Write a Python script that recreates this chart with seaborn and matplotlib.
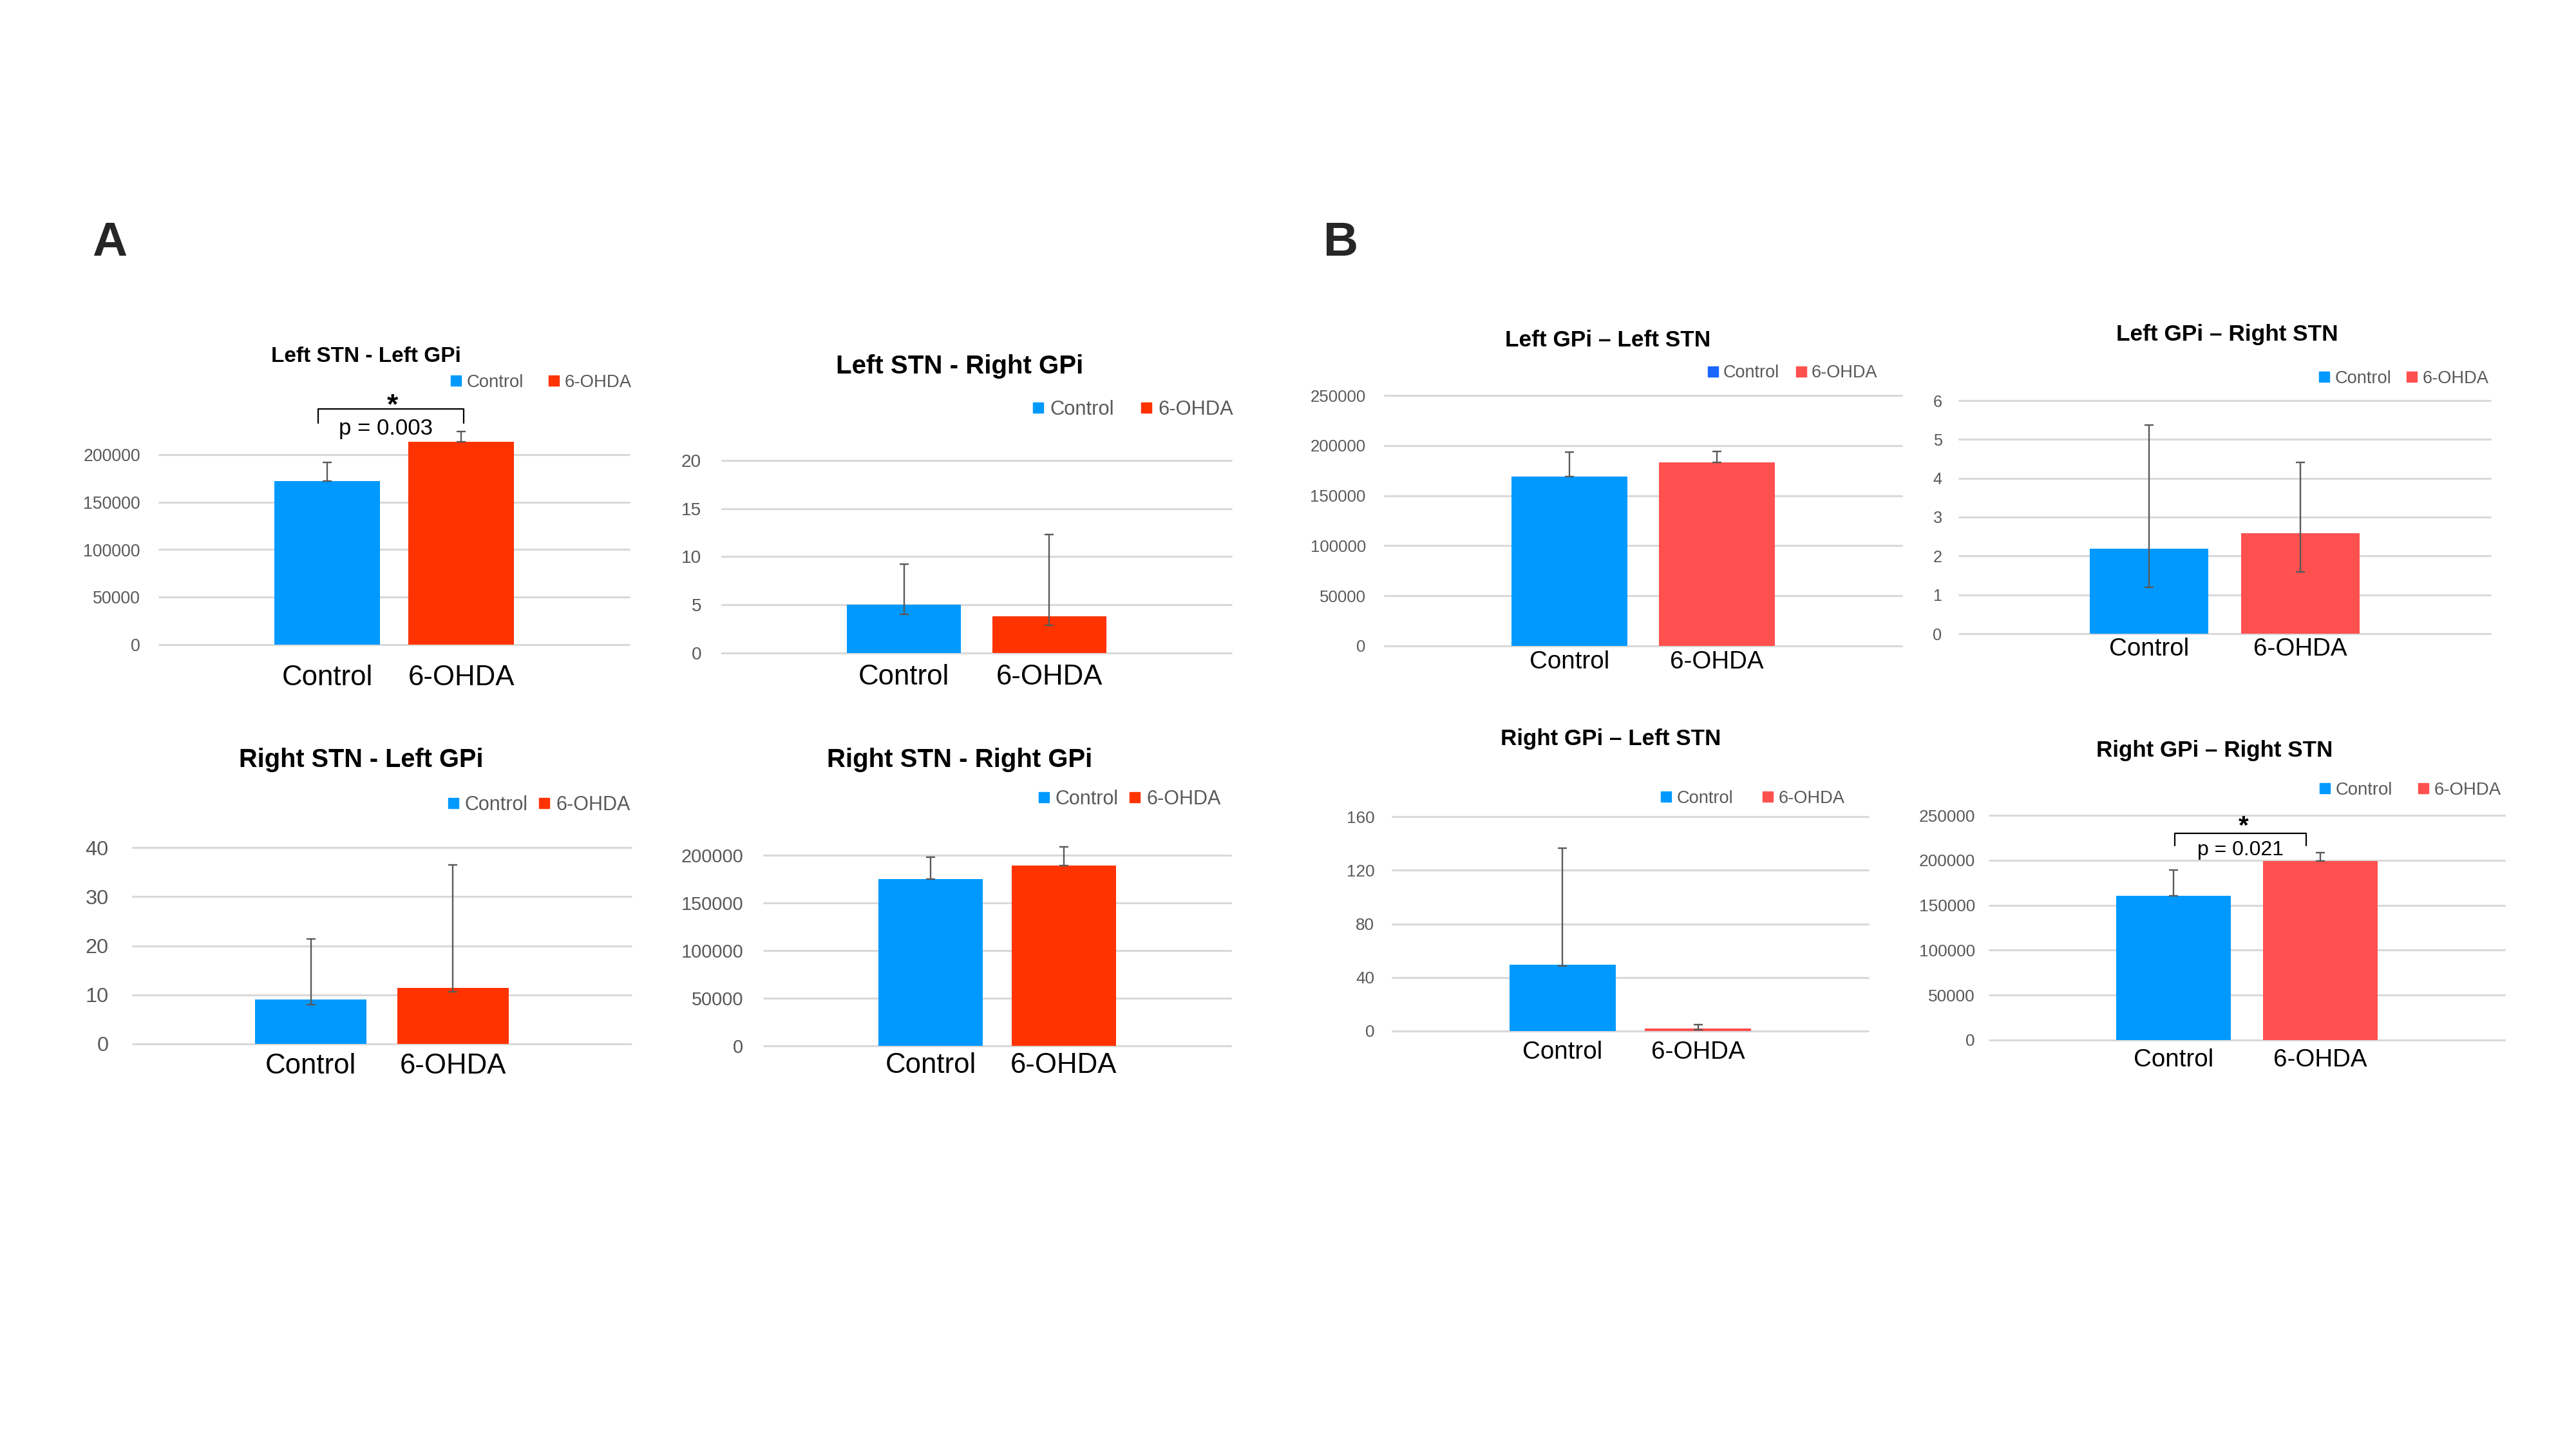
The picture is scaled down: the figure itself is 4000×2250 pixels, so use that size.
import matplotlib
matplotlib.use('Agg')
import matplotlib.pyplot as plt
from matplotlib.lines import Line2D
import seaborn as sns
import pandas as pd

# categories and panel titles
groups = ['Control', '6-OHDA']
titles = ['Left STN - Left GPi', 'Left STN - Right GPi',
          'Right STN - Left GPi', 'Right STN - Right GPi',
          'Left GPi \u2013 Left STN', 'Left GPi \u2013 Right STN',
          'Right GPi \u2013 Left STN', 'Right GPi \u2013 Right STN']

# bar heights and error bars (minus / plus)
a1_means = [172200, 213500]
a1_err_lo = [0, 0]
a1_err_hi = [19700, 10900]
a2_means = [5.0, 3.82]
a2_err_lo = [0.99, 0.97]
a2_err_hi = [4.22, 8.48]
a3_means = [9.03, 11.36]
a3_err_lo = [1.03, 0.76]
a3_err_hi = [12.37, 25.14]
a4_means = [174750, 189000]
a4_err_lo = [0, 0]
a4_err_hi = [23250, 19500]
b1_means = [169100, 183100]
b1_err_lo = [0, 0]
b1_err_hi = [24400, 10900]
b2_means = [2.18, 2.58]
b2_err_lo = [0.99, 0.99]
b2_err_hi = [3.19, 1.83]
b3_means = [49.5, 1.8]
b3_err_lo = [1.1, 0.7]
b3_err_hi = [87, 2.8]
b4_means = [160400, 199000]
b4_err_lo = [0, 0]
b4_err_hi = [28800, 9800]

# y tick values
ticks_200k = [0, 50000, 100000, 150000, 200000]
ticks_250k = [0, 50000, 100000, 150000, 200000, 250000]
a2_ticks = [0, 5, 10, 15, 20]
a3_ticks = [0, 10, 20, 30, 40]
b2_ticks = [0, 1, 2, 3, 4, 5, 6]
b3_ticks = [0, 40, 80, 120, 160]

colors_a = ['#0099FF', '#FF3300']
colors_b = ['#0099FF', '#FF5050']

panels = [
    dict(means=a1_means, lo=a1_err_lo, hi=a1_err_hi, ticks=ticks_200k, colors=colors_a),
    dict(means=a2_means, lo=a2_err_lo, hi=a2_err_hi, ticks=a2_ticks, colors=colors_a),
    dict(means=a3_means, lo=a3_err_lo, hi=a3_err_hi, ticks=a3_ticks, colors=colors_a),
    dict(means=a4_means, lo=a4_err_lo, hi=a4_err_hi, ticks=ticks_200k, colors=colors_a),
    dict(means=b1_means, lo=b1_err_lo, hi=b1_err_hi, ticks=ticks_250k, colors=colors_b),
    dict(means=b2_means, lo=b2_err_lo, hi=b2_err_hi, ticks=b2_ticks, colors=colors_b),
    dict(means=b3_means, lo=b3_err_lo, hi=b3_err_hi, ticks=b3_ticks, colors=colors_b),
    dict(means=b4_means, lo=b4_err_lo, hi=b4_err_hi, ticks=ticks_250k, colors=colors_b),
]
legend_colors = [colors_a] * 4 + [['#1A66FF', '#FF5050'], colors_b, colors_b, colors_b]

# layout in pixels: plot box (left, right, y of 0, y of top tick), title centre + size,
# x tick size/pad, y tick size/pad, legend left/centre + size + column spacing
layout = [
    dict(box=(247, 977, 1001, 706), title=(568, 550, 24.0), xt=(31.5, 22), yt=(19.2, 21), leg=(701, 594, 19.8, 1.47)),
    dict(box=(1121, 1912, 1014, 715), title=(1490, 566, 29.0), xt=(31.5, 12), yt=(20.2, 23), leg=(1604, 636, 22.2, 1.37)),
    dict(box=(206, 980, 1621, 1316), title=(561, 1177, 28.6), xt=(31.5, 10), yt=(23.4, 27), leg=(696, 1250, 22.0, 0.58)),
    dict(box=(1186, 1911, 1624, 1328), title=(1490, 1177, 28.9), xt=(31.5, 7), yt=(20.8, 23), leg=(1613, 1241, 22.0, 0.58)),
    dict(box=(2150, 2953, 1003, 614), title=(2497, 525, 25.4), xt=(27.7, 5), yt=(18.6, 21), leg=(2653, 579, 19.5, 0.99)),
    dict(box=(3042, 3867, 984, 622), title=(3458, 516, 25.4), xt=(27.7, 4), yt=(18.2, 19), leg=(3602, 588, 19.6, 0.94)),
    dict(box=(2162, 2901, 1601, 1268), title=(2501, 1144, 25.2), xt=(27.7, 11), yt=(18.8, 20), leg=(2580, 1240, 19.6, 1.74)),
    dict(box=(3089, 3889, 1615, 1266), title=(3439, 1162, 25.2), xt=(27.7, 9), yt=(18.9, 16), leg=(3603, 1227, 19.8, 1.5)),
]

# significance brackets: panel, x from/to, bracket top/leg bottom, p text baseline, star baseline
sig = [
    dict(panel=0, x=(-0.069, 1.021), y=(248300, 233500), text='p = 0.003', tx=0.438, ty=220800, tfs=25, sx=0.49, sy=243000, sfs=32),
    dict(panel=7, x=(0.007, 0.902), y=(230200, 216100), text='p = 0.021', tx=0.455, ty=205500, tfs=23, sx=0.477, sy=229500, sfs=29),
]

sns.set_style('white')
plt.rcParams['font.family'] = ['Liberation Sans', 'DejaVu Sans']

W, H = 4000, 2250
PT = 100 / 72
fig = plt.figure(figsize=(40, 22.5), dpi=100)

axes = []
for i, p in enumerate(panels):
    lay = layout[i]
    L, R, y0, yt = lay['box']
    ax = fig.add_axes([L / W, 1 - y0 / H, (R - L) / W, (y0 - yt) / H])
    axes.append(ax)
    df = pd.DataFrame({'group': groups, 'value': p['means']})
    sns.barplot(data=df, x='group', y='value', hue='group', palette=p['colors'], saturation=1,
                width=0.785, linewidth=0, errorbar=None, legend=False, ax=ax, zorder=2)
    for patch in ax.patches:
        patch.set_clip_on(False)

    eb = ax.errorbar([0, 1], p['means'], yerr=[p['lo'], p['hi']], fmt='none',
                     ecolor='#595959', elinewidth=1.7, capsize=4.7, capthick=1.7, zorder=3)
    for art in eb.get_children():
        art.set_clip_on(False)

    for t in p['ticks']:
        ax.axhline(t, color='#D9D9D9', lw=2.2, zorder=1, clip_on=False)

    ax.set_xlim(-1.255, 2.255)
    ax.set_ylim(0, p['ticks'][-1])
    ax.set_yticks(p['ticks'])
    ax.set_yticklabels([str(t) for t in p['ticks']])
    ax.set_xlabel('')
    ax.set_ylabel('')
    for s in ax.spines.values():
        s.set_visible(False)
    ax.tick_params(axis='y', length=0, pad=lay['yt'][1], labelsize=lay['yt'][0], labelcolor='#595959')
    ax.tick_params(axis='x', length=0, pad=lay['xt'][1], labelsize=lay['xt'][0], labelcolor='black')

    tx, ty, tfs = lay['title']
    fig.text(tx / W, 1 - (ty + 0.36 * tfs * PT) / H, titles[i], ha='center', va='baseline',
             fontsize=tfs, fontweight='bold', color='black')

    lx, ly, lfs, cs = lay['leg']
    handles = [Line2D([], [], marker='s', ls='none', color=c, markersize=11.5) for c in legend_colors[i]]
    ax.legend(handles, groups, loc='center left', bbox_to_anchor=(lx / W, 1 - ly / H),
              bbox_transform=fig.transFigure, ncol=2, frameon=False, fontsize=lfs,
              handlelength=0.5, handletextpad=0.35, columnspacing=cs,
              borderpad=0, borderaxespad=0, labelcolor='#595959')

for s in sig:
    ax = axes[s['panel']]
    x0, x1 = s['x']
    ytop, yleg = s['y']
    ax.plot([x0, x0, x1, x1], [yleg, ytop, ytop, yleg], color='black', lw=1.6, clip_on=False, zorder=4)
    ax.text(s['tx'], s['ty'], s['text'], ha='center', va='baseline', fontsize=s['tfs'], color='black')
    ax.text(s['sx'], s['sy'], '*', ha='center', va='baseline', fontsize=s['sfs'], fontweight='bold', color='black')

fig.text(143 / W, 1 - 397 / H, 'A', ha='left', va='baseline', fontsize=54, fontweight='bold')
fig.text(2055 / W, 1 - 397 / H, 'B', ha='left', va='baseline', fontsize=54, fontweight='bold')

fig.savefig('out.png', dpi=100)
